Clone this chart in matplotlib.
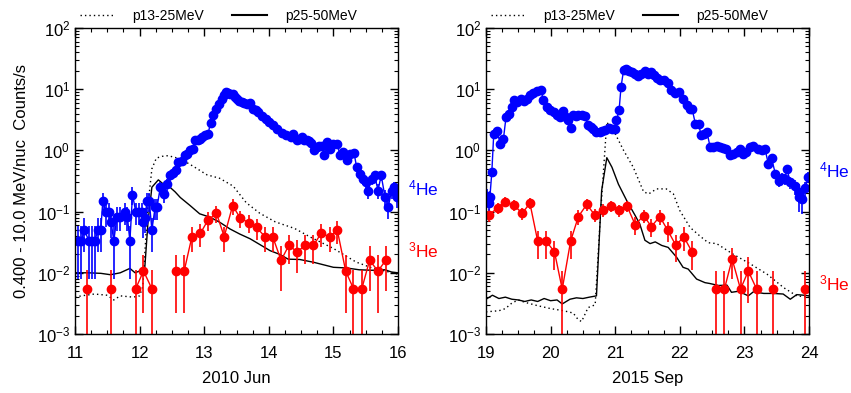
import numpy as np
import matplotlib
matplotlib.use("Agg")
import matplotlib.pyplot as plt
from matplotlib.ticker import MultipleLocator, LogLocator, NullFormatter
from matplotlib.lines import Line2D

plt.rcParams['font.family'] = ['Liberation Sans', 'DejaVu Sans']
plt.rcParams['mathtext.default'] = 'regular'

nan = np.nan

# ---------------- 2010 Jun ----------------
he4_t_a = [11.05, 11.10, 11.14, 11.22, 11.27, 11.31, 11.35, 11.40, 11.43, 11.48,
           11.52, 11.56, 11.60, 11.65, 11.70, 11.77, 11.81, 11.85, 11.89, 11.94,
           11.99, 12.03, 12.05, 12.09, 12.11, 12.15, 12.19, 12.24, 12.27, 12.32,
           12.38, 12.42, 12.47, 12.52, 12.56, 12.60, 12.65, 12.70, 12.74, 12.78,
           12.82, 12.86, 12.90, 12.93, 12.97, 13.01, 13.06, 13.10, 13.14, 13.18,
           13.23, 13.27, 13.30, 13.33, 13.37, 13.40, 13.44, 13.47, 13.50, 13.54,
           13.58, 13.62, 13.66, 13.71, 13.76, 13.80, 13.84, 13.90, 13.96, 14.01,
           14.07, 14.13, 14.20, 14.27, 14.34, 14.38, 14.43, 14.47, 14.51, 14.55,
           14.59, 14.63, 14.66, 14.70, 14.74, 14.77, 14.82, 14.86, 14.90, 14.95,
           15.00, 15.06, 15.10, 15.15, 15.21, 15.26, 15.32, 15.36, 15.41, 15.46,
           15.51, 15.54, 15.59, 15.64, 15.69, 15.74, 15.80, 15.85, 15.90, 15.94,
           15.97, 15.99]
he4_v_a = [0.033, 0.033, 0.050, 0.033, 0.033, 0.033, 0.050, 0.050, 0.15, 0.097,
           0.10, 0.067, 0.033, 0.083, 0.083, 0.10, 0.083, 0.033, 0.19, 0.10,
           0.10, 0.10, 0.067, 0.08, 0.15, 0.15, 0.05, 0.118, 0.118, 0.25,
           0.195, 0.28, 0.39, 0.42, 0.48, 0.64, 0.68, 0.83, 0.86, 1.0,
           1.07, 1.46, 1.50, 1.55, 1.65, 1.76, 1.88, 2.85, 3.8, 4.8,
           5.8, 7.0, 8.0, 9.0, 8.7, 8.5, 8.3, 7.4, 6.8, 6.5,
           6.2, 6.0, 5.8, 5.9, 4.8, 4.5, 4.2, 3.7, 3.3, 2.9,
           2.57, 2.2, 1.9, 1.76, 1.65, 1.87, 1.46, 1.55, 1.65, 1.50,
           1.46, 1.40, 1.30, 1.03, 1.15, 1.20, 1.20, 0.85, 1.37, 1.07,
           1.29, 1.29, 0.83, 0.95, 0.70, 0.88, 0.90, 0.53, 0.41, 0.34,
           0.30, 0.22, 0.34, 0.39, 0.22, 0.39, 0.17, 0.12, 0.22, 0.25,
           0.22, 0.17]
he4_e_a = [0.025, 0.025, 0.028, 0.025, 0.025, 0.025, 0.028, 0.028, 0.05, 0.04,
           0.04, 0.03, 0.025, 0.035, 0.035, 0.04, 0.035, 0.025, 0.06, 0.04,
           0.04, 0.04, 0.03, 0.035, 0.05, 0.05, 0.028, 0.045, 0.045, 0.06,
           0.055, 0.065, 0.07, 0.07, 0.08, 0.08, 0.08, 0.1, 0.1, 0.1,
           0.1, 0.1, 0.1, 0.1, 0.1, 0.1, 0.1, 0.2, 0.2, 0.2,
           0.3, 0.3, 0.3, 0.3, 0.3, 0.3, 0.3, 0.3, 0.3, 0.3,
           0.3, 0.3, 0.3, 0.3, 0.2, 0.2, 0.2, 0.2, 0.2, 0.2,
           0.2, 0.2, 0.1, 0.1, 0.1, 0.1, 0.1, 0.1, 0.1, 0.1,
           0.1, 0.1, 0.1, 0.1, 0.1, 0.1, 0.1, 0.1, 0.1, 0.1,
           0.1, 0.1, 0.1, 0.1, 0.09, 0.1, 0.1, 0.08, 0.07, 0.07,
           0.065, 0.06, 0.07, 0.07, 0.06, 0.07, 0.055, 0.045, 0.06, 0.06,
           0.06, 0.055]

he3_t_a = [11.19, 11.31, 11.44, 11.56, 11.69, 11.81, 11.94, 12.06, 12.19, 12.31,
           12.44, 12.56, 12.69, 12.81, 12.94, 13.06, 13.19, 13.31, 13.44, 13.56,
           13.69, 13.81, 13.94, 14.06, 14.19, 14.31, 14.44, 14.56, 14.69, 14.81,
           14.94, 15.06, 15.19, 15.31, 15.44, 15.56, 15.69, 15.81]
he3_v_a = [0.0055, nan, nan, 0.0055, nan, nan, 0.0055, 0.0107, 0.0055, nan,
           nan, 0.0107, 0.0107, 0.039, 0.044, 0.073, 0.094, 0.039, 0.125, 0.078,
           0.066, 0.055, 0.039, 0.039, 0.016, 0.028, 0.022, 0.028, 0.028, 0.044,
           0.039, 0.050, 0.0107, 0.0055, 0.0055, 0.016, 0.0107, 0.016]
he3_e_a = [0.00549, 0, 0, 0.00549, 0, 0, 0.00549, 0.0085, 0.00549, 0,
           0, 0.0085, 0.0085, 0.017, 0.018, 0.024, 0.03, 0.017, 0.036, 0.024,
           0.022, 0.02, 0.017, 0.017, 0.011, 0.014, 0.012, 0.014, 0.014, 0.018,
           0.017, 0.02, 0.0085, 0.00549, 0.00549, 0.011, 0.0085, 0.011]

p25_t_a = [11.0, 11.2, 11.4, 11.55, 11.7, 11.85, 11.93, 12.0, 12.05, 12.08,
           12.13, 12.19, 12.29, 12.37, 12.47, 12.55, 12.63, 12.78, 12.93, 13.09,
           13.24, 13.40, 13.55, 13.71, 13.86, 14.02, 14.17, 14.30, 14.48, 14.7,
           15.0, 15.2, 15.4, 15.6, 15.8, 15.9, 16.0]
p25_v_a = [0.0100, 0.0100, 0.0098, 0.0093, 0.0100, 0.0118, 0.0100, 0.0107, 0.011, 0.012,
           0.067, 0.25, 0.33, 0.28, 0.25, 0.21, 0.17, 0.126, 0.092, 0.081,
           0.067, 0.052, 0.043, 0.036, 0.029, 0.023, 0.020, 0.0167, 0.0165, 0.0148,
           0.0123, 0.0120, 0.0112, 0.0110, 0.0112, 0.0103, 0.0100]

p13_t_a = [11.0, 11.1, 11.3, 11.5, 11.6, 11.7, 11.9, 12.0, 12.05, 12.12,
           12.19, 12.26, 12.35, 12.44, 12.63, 12.83, 13.04, 13.24, 13.45, 13.65,
           13.86, 14.1, 14.4, 14.65, 15.0, 15.35, 15.6, 16.0]
p13_v_a = [0.0040, 0.0042, 0.0045, 0.0043, 0.0036, 0.0042, 0.0040, 0.0042, 0.006, 0.1,
           0.5, 0.75, 0.80, 0.82, 0.73, 0.55, 0.40, 0.35, 0.26, 0.14,
           0.094, 0.068, 0.053, 0.038, 0.025, 0.015, 0.012, 0.0095]

# ---------------- 2015 Sep ----------------
he4_t_b = [19.01, 19.04, 19.06, 19.09, 19.12, 19.17, 19.22, 19.27, 19.31, 19.36,
           19.40, 19.43, 19.48, 19.54, 19.59, 19.64, 19.68, 19.73, 19.79, 19.85,
           19.89, 19.94, 19.99, 20.05, 20.10, 20.14, 20.19, 20.24, 20.27, 20.31,
           20.35, 20.40, 20.43, 20.48, 20.53, 20.58, 20.62, 20.66, 20.71, 20.76,
           20.80, 20.84, 20.90, 20.95, 21.00, 21.02, 21.06, 21.09, 21.13, 21.16,
           21.19, 21.22, 21.26, 21.31, 21.35, 21.40, 21.46, 21.51, 21.56, 21.60,
           21.65, 21.70, 21.76, 21.82, 21.87, 21.93, 21.99, 22.05, 22.11, 22.16,
           22.19, 22.24, 22.29, 22.33, 22.37, 22.42, 22.47, 22.52, 22.57, 22.62,
           22.67, 22.72, 22.78, 22.83, 22.88, 22.93, 22.98, 23.03, 23.09, 23.14,
           23.21, 23.27, 23.32, 23.37, 23.42, 23.48, 23.53, 23.58, 23.63, 23.66,
           23.71, 23.78, 23.84, 23.85, 23.89, 23.94, 23.99]
he4_v_b = [0.18, 0.14, 0.17, 0.44, 1.87, 2.1, 1.29, 1.55, 3.5, 4.0,
           5.1, 6.6, 6.2, 7.0, 6.4, 7.0, 8.0, 8.7, 9.4, 9.6,
           6.6, 5.1, 4.6, 4.26, 3.8, 3.5, 4.4, 3.5, 3.1, 2.35,
           3.75, 3.6, 3.75, 3.75, 3.6, 2.57, 2.4, 2.27, 2.0, 2.0,
           2.1, 2.13, 2.3, 2.27, 2.27, 3.1, 4.5, 10.9, 20.5, 21.0,
           20.5, 20.0, 19.0, 18.0, 16.5, 18.0, 20.0, 17.5, 19.0, 17.0,
           15.5, 14.0, 14.2, 12.4, 9.6, 8.6, 9.0, 7.0, 5.5, 4.8,
           4.8, 2.75, 2.75, 1.76, 1.85, 2.0, 1.13, 1.15, 1.20, 1.15,
           1.10, 1.05, 0.83, 0.88, 0.93, 1.05, 0.88, 0.95, 1.13, 1.20,
           1.05, 1.00, 1.05, 0.60, 0.75, 0.41, 0.32, 0.36, 0.34, 0.50,
           0.30, 0.26, 0.21, 0.17, 0.16, 0.24, 0.37]
he4_e_b = [0.05, 0.045, 0.05, 0.07, 0.1, 0.1, 0.1, 0.1, 0.2, 0.2,
           0.2, 0.3, 0.3, 0.3, 0.3, 0.3, 0.3, 0.3, 0.3, 0.3,
           0.3, 0.2, 0.2, 0.2, 0.2, 0.2, 0.2, 0.2, 0.2, 0.2,
           0.2, 0.2, 0.2, 0.2, 0.2, 0.2, 0.2, 0.2, 0.1, 0.1,
           0.1, 0.1, 0.2, 0.2, 0.2, 0.2, 0.2, 0.4, 0.5, 0.5,
           0.5, 0.5, 0.5, 0.5, 0.5, 0.5, 0.5, 0.5, 0.5, 0.5,
           0.5, 0.5, 0.5, 0.4, 0.3, 0.3, 0.3, 0.3, 0.3, 0.2,
           0.2, 0.2, 0.2, 0.1, 0.1, 0.1, 0.1, 0.1, 0.1, 0.1,
           0.1, 0.1, 0.1, 0.1, 0.1, 0.1, 0.1, 0.1, 0.1, 0.1,
           0.1, 0.1, 0.1, 0.08, 0.09, 0.07, 0.065, 0.07, 0.07, 0.08,
           0.07, 0.07, 0.07, 0.07, 0.07, 0.07, 0.08]

he3_t_b = [19.05, 19.18, 19.30, 19.43, 19.56, 19.68, 19.80, 19.93, 20.06, 20.18,
           20.31, 20.43, 20.56, 20.68, 20.81, 20.93, 21.06, 21.18, 21.31, 21.44,
           21.56, 21.69, 21.81, 21.94, 22.06, 22.19, 22.31, 22.44, 22.56, 22.69,
           22.81, 22.94, 23.06, 23.19, 23.31, 23.44, 23.56, 23.69, 23.81, 23.94]
he3_v_b = [0.089, 0.115, 0.146, 0.128, 0.094, 0.137, 0.033, 0.033, 0.022, 0.0054,
           0.033, 0.083, 0.131, 0.089, 0.107, 0.125, 0.105, 0.125, 0.061, 0.086,
           0.057, 0.083, 0.050, 0.028, 0.039, 0.022, nan, nan, 0.0054, 0.0054,
           0.0168, 0.0054, 0.0107, 0.0054, nan, 0.0054, nan, nan, nan, 0.0054]
he3_e_b = [0.022, 0.025, 0.028, 0.026, 0.022, 0.027, 0.016, 0.016, 0.011, 0.00539,
           0.016, 0.022, 0.027, 0.022, 0.024, 0.026, 0.024, 0.026, 0.02, 0.022,
           0.019, 0.022, 0.018, 0.013, 0.016, 0.011, 0, 0, 0.00539, 0.00539,
           0.009, 0.00539, 0.0075, 0.00539, 0, 0.00539, 0, 0, 0, 0.00539]

p25_t_b = [19.0, 19.1, 19.2, 19.3, 19.4, 19.5, 19.6, 19.7, 19.8, 19.9,
           20.0, 20.1, 20.18, 20.3, 20.4, 20.5, 20.6, 20.71, 20.79, 20.87,
           20.95, 21.05, 21.18, 21.31, 21.38, 21.46, 21.54, 21.62, 21.72, 21.82,
           21.95, 22.05, 22.13, 22.26, 22.39, 22.46, 22.60, 22.73, 22.80, 22.91,
           23.06, 23.14, 23.3, 23.45, 23.6, 23.71, 23.81, 23.92, 24.0]
p25_v_b = [0.0037, 0.0043, 0.0038, 0.0040, 0.0037, 0.0036, 0.0034, 0.0036, 0.0034, 0.0038,
           0.0035, 0.0036, 0.0031, 0.0037, 0.0039, 0.0038, 0.0040, 0.0042, 0.22, 0.76,
           0.53, 0.28, 0.15, 0.086, 0.063, 0.034, 0.030, 0.032, 0.028, 0.026,
           0.018, 0.0123, 0.0115, 0.0079, 0.0069, 0.0067, 0.0062, 0.0063, 0.0048, 0.0050,
           0.0042, 0.0049, 0.0046, 0.0046, 0.0045, 0.0037, 0.0044, 0.0043, 0.0042]

p13_t_b = [19.0, 19.2, 19.3, 19.4, 19.5, 19.6, 19.8, 20.0, 20.2, 20.35,
           20.43, 20.48, 20.58, 20.69, 20.77, 20.87, 21.0, 21.13, 21.28, 21.44,
           21.52, 21.64, 21.79, 21.90, 22.0, 22.16, 22.31, 22.44, 22.57, 22.83,
           23.09, 23.35, 23.61, 23.81, 24.0]
p13_v_b = [0.0023, 0.0024, 0.0026, 0.0032, 0.0036, 0.0033, 0.0029, 0.0026, 0.0024, 0.0022,
           0.0017, 0.0016, 0.0027, 0.0030, 0.081, 2.9, 1.87, 1.0, 0.53, 0.21,
           0.195, 0.235, 0.235, 0.195, 0.104, 0.055, 0.040, 0.031, 0.030, 0.020,
           0.014, 0.0095, 0.0057, 0.0042, 0.0040]

W, H = 851, 393
fig = plt.figure(figsize=(W / 100, H / 100), dpi=100)
ax1 = fig.add_axes([75 / W, 1 - 334 / H, 323 / W, 306 / H])
ax2 = fig.add_axes([486 / W, 1 - 334 / H, 323 / W, 306 / H])


def panel(ax, x0, xlabel, he4, he3, p13, p25):
    ax.plot(p13[0], p13[1], color='k', ls=(0, (1, 2.2)), lw=1.0)
    ax.plot(p25[0], p25[1], color='k', ls='-', lw=1.0)
    ax.errorbar(he3[0], he3[1], yerr=he3[2], fmt='o-', color='red', ms=6,
                lw=1.0, elinewidth=1.2, capsize=0)
    ax.errorbar(he4[0], he4[1], yerr=he4[2], fmt='o-', color='blue', ms=6,
                lw=1.0, elinewidth=1.2, capsize=0)
    ax.set_yscale('log')
    ax.set_ylim(1e-3, 1e2)
    ax.set_xlim(x0, x0 + 5)
    ax.xaxis.set_major_locator(MultipleLocator(1))
    ax.xaxis.set_minor_locator(MultipleLocator(0.25))
    ax.yaxis.set_major_locator(LogLocator(base=10, numticks=10))
    ax.yaxis.set_minor_locator(LogLocator(base=10, subs=np.arange(2, 10), numticks=10))
    ax.yaxis.set_minor_formatter(NullFormatter())
    ax.tick_params(which='both', direction='in', top=True, right=True, labelsize=12)
    ax.tick_params(which='major', length=6, width=1)
    ax.tick_params(which='minor', length=3, width=0.8)
    ax.tick_params(axis='x', which='both', pad=9)
    for s in ax.spines.values():
        s.set_linewidth(1.0)
    ax.set_xlabel(xlabel, fontsize=12, labelpad=7)
    handles = [Line2D([], [], color='k', ls=(0, (1, 2.2)), lw=1.0),
               Line2D([], [], color='k', ls='-', lw=1.5)]
    ax.legend(handles, ['p13-25MeV', 'p25-50MeV'], loc='lower left',
              bbox_to_anchor=(0.0, 1.0), ncol=2, frameon=False, fontsize=10,
              handlelength=2.5, handletextpad=1.3, columnspacing=2.0,
              borderaxespad=0.15, borderpad=0.2)


panel(ax1, 11, '2010 Jun', (he4_t_a, he4_v_a, he4_e_a), (he3_t_a, he3_v_a, he3_e_a),
      (p13_t_a, p13_v_a), (p25_t_a, p25_v_a))
panel(ax2, 19, '2015 Sep', (he4_t_b, he4_v_b, he4_e_b), (he3_t_b, he3_v_b, he3_e_b),
      (p13_t_b, p13_v_b), (p25_t_b, p25_v_b))

fig.text(22 / W, 1 - 181 / H, '0.400 - 10.0 MeV/nuc  Counts/s', rotation=90,
         ha='center', va='center', fontsize=12)

fig.text(408 / W, 1 - 188 / H, '$^{4}$He', color='blue', fontsize=12.5, va='center')
fig.text(408 / W, 1 - 250 / H, '$^{3}$He', color='red', fontsize=12.5, va='center')
fig.text(819 / W, 1 - 170 / H, '$^{4}$He', color='blue', fontsize=12.5, va='center')
fig.text(819 / W, 1 - 283 / H, '$^{3}$He', color='red', fontsize=12.5, va='center')

fig.savefig('out.png', dpi=100)
